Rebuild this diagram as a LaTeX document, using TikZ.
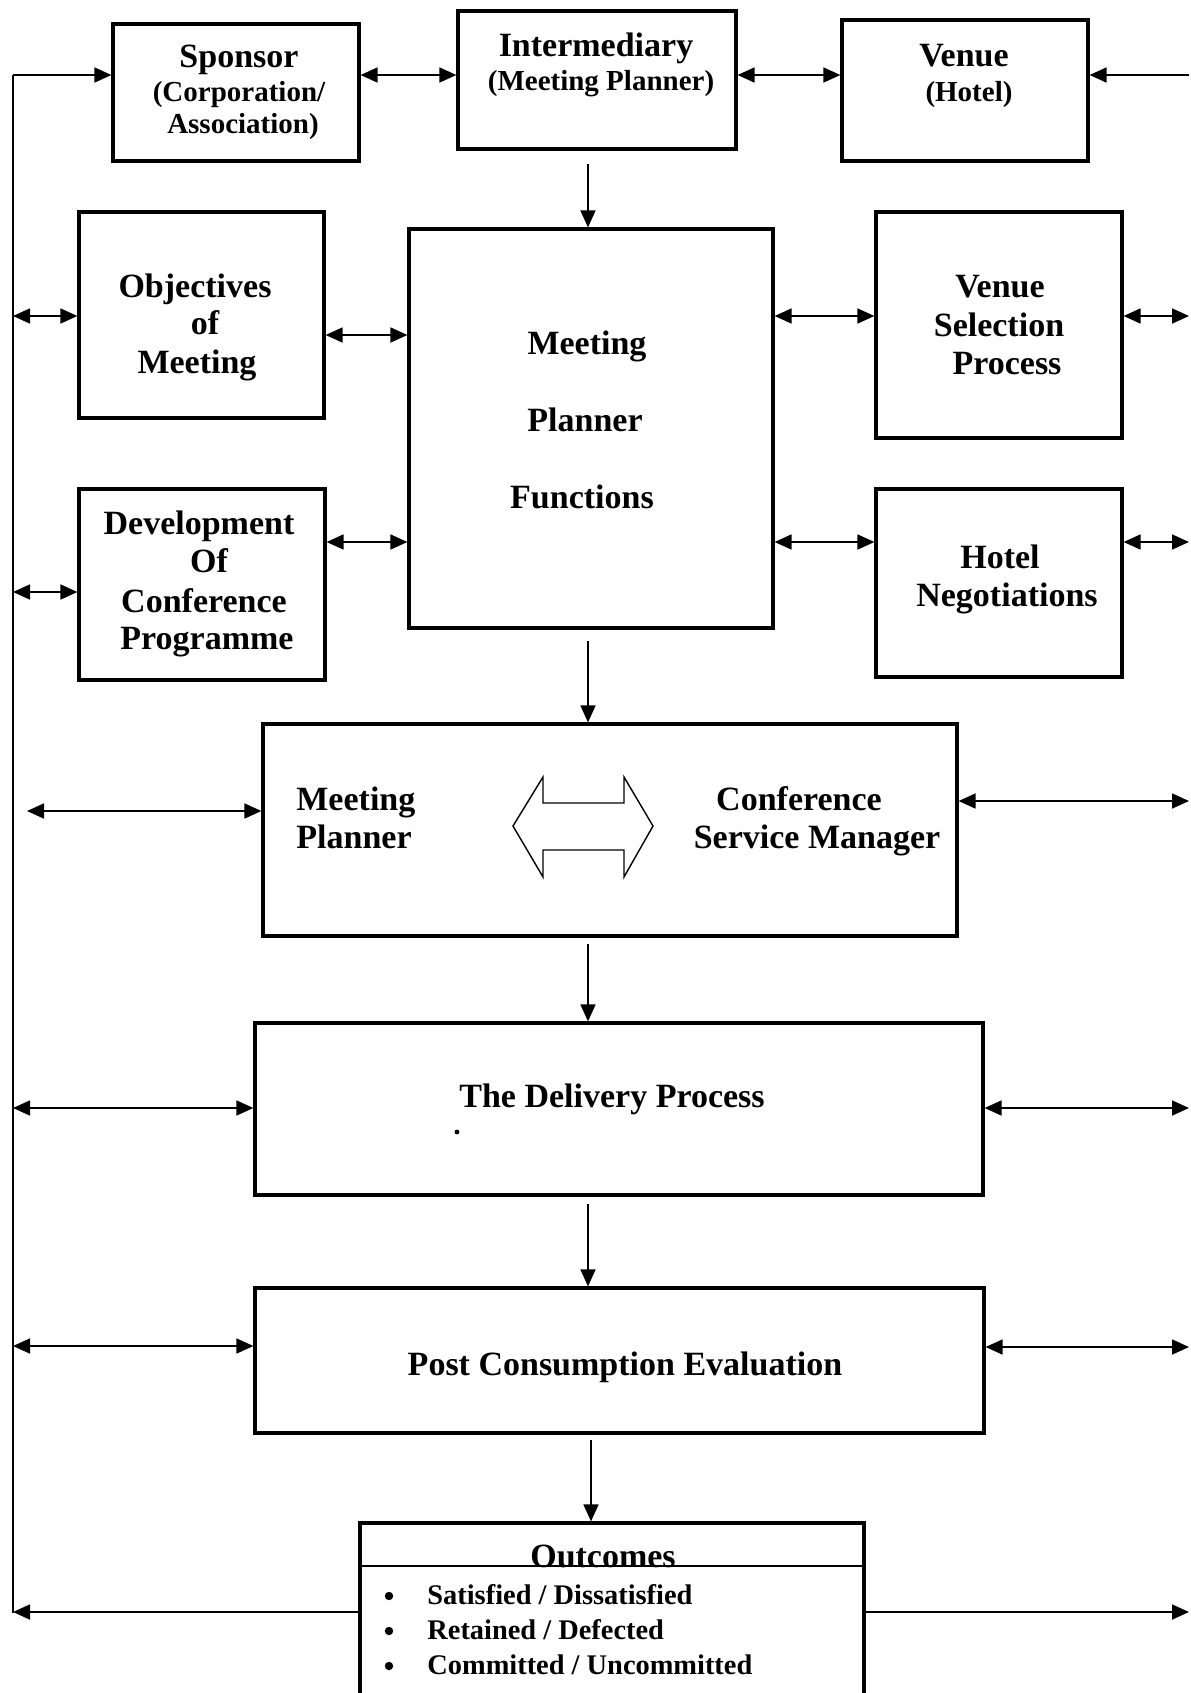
\documentclass[tikz,border=0pt]{standalone}
\usepackage{fontspec}
\setmainfont{Liberation Serif}
\usetikzlibrary{arrows.meta}
\begin{document}
\begin{tikzpicture}[x=0.5pt,y=-0.5pt,
  box/.style 2 args={draw, line width=1.6pt, rectangle, inner sep=0pt,
    minimum width=#1*0.5pt, minimum height=#2*0.5pt},
  lab/.style={font=\bfseries\fontsize{17}{20}\selectfont, anchor=base, inner sep=0pt},
  sub/.style={lab, font=\bfseries\fontsize{14.5}{17}\selectfont},
  item/.style={font=\bfseries\fontsize{14.2}{16}\selectfont, anchor=base west, inner sep=0pt},
  bul/.style={circle, fill, inner sep=0pt, minimum size=4.2pt},
  arr/.style={line width=0.85pt, -{Triangle[length=8.5pt,width=7.5pt]}},
  dbl/.style={line width=0.85pt, {Triangle[length=8.5pt,width=7.5pt]}-{Triangle[length=8.5pt,width=7.5pt]}},
  down/.style={arr, shorten <=#1},
  rail/.style={line width=0.75pt}]

\useasboundingbox[fill=white] (0,0) rectangle (1190,1693);
\clip (0,0) rectangle (1190,1693);

% ---- boxes ----
\node[box={246}{137}] (sponsor) at (236,92.5) {};
\node[box={278}{138}] (inter)   at (597,80) {};
\node[box={246}{141}] (venue)   at (965,90.5) {};
\node[box={245}{206}] (obj)     at (201.5,315) {};
\node[box={364}{399}] (mpf)     at (591,428.5) {};
\node[box={246}{226}] (vsp)     at (999,325) {};
\node[box={246}{191}] (dev)     at (202,584.5) {};
\node[box={246}{188}] (hotel)   at (999,583) {};
\node[box={694}{212}] (mpcsm)   at (610,830) {};
\node[box={728}{172}] (deliv)   at (619,1109) {};
\node[box={729}{145}] (post)    at (619.5,1360.5) {};
\node[box={504}{237}] (outc)    at (612,1641.5) {};

% ---- texts ----
\node[lab] (tSp)  at (239,67)  {Sponsor};
\node[sub] (tSp2) at (239,101) {(Corporation/};
\node[sub] (tSp3) at (243,133) {Association)};
\node[lab] (tIn)  at (596,56)  {Intermediary};
\node[sub] (tIn2) at (601,90)  {(Meeting Planner)};
\node[lab] (tVe)  at (964,66)  {Venue};
\node[sub] (tVe2) at (969,101) {(Hotel)};

\node[lab] (tOb1) at (195,297) {Objectives};
\node[lab] (tOb2) at (205,334) {of};
\node[lab] (tOb3) at (197,373) {Meeting};

\node[lab] (tMf1) at (587,354) {Meeting};
\node[lab] (tMf2) at (585,431) {Planner};
\node[lab] (tMf3) at (582,508) {Functions};

\node[lab] (tVs1) at (1000,297) {Venue};
\node[lab] (tVs2) at (999,336)  {Selection};
\node[lab] (tVs3) at (1007,374) {Process};

\node[lab] (tDv1) at (199,534) {Development};
\node[lab] (tDv2) at (209,572) {Of};
\node[lab] (tDv3) at (204,612) {Conference};
\node[lab] (tDv4) at (207,649) {Programme};

\node[lab] (tHo1) at (1000,568) {Hotel};
\node[lab] (tHo2) at (1007,606) {Negotiations};

\node[lab, anchor=base west] (tMp1) at (296,810) {Meeting};
\node[lab, anchor=base west] (tMp2) at (296,848) {Planner};
\node[lab] (tCs1) at (799,810) {Conference};
\node[lab] (tCs2) at (817,848) {Service Manager};

% two-way block arrow between the planner and the service manager
\draw[line width=0.7pt, fill=white]
  (513,826) -- (543,777) -- (543,803) -- (624,803) -- (624,777) -- (653,826)
  -- (624,877) -- (624,850) -- (543,850) -- (543,877) -- cycle;

\node[lab] (tDe) at (612,1107) {The Delivery Process};
\fill (457,1132) circle (1.2pt);
\node[lab] (tPo) at (625,1375) {Post Consumption Evaluation};

% outcomes header
\coordinate (H) at (0,1566);
\draw[line width=1pt] (outc.west |- H) -- (outc.east |- H);
\node[lab] (tOu) at (603,1567) {Outcomes};
\node[bul] (b1) at (389,1596) {};
\node[bul] (b2) at (389,1631) {};
\node[bul] (b3) at (389,1666) {};
\node[item] (i1) at (427,1604) {Satisfied / Dissatisfied};
\node[item] (i2) at (427,1639) {Retained / Defected};
\node[item] (i3) at (427,1674) {Committed / Uncommitted};

% ---- left feedback rail ----
\coordinate (L0) at (13,75);
\coordinate (L1) at (13,316);
\coordinate (L2) at (13,592);
\coordinate (L3) at (27,811);
\coordinate (L4) at (13,1108);
\coordinate (L5) at (13,1346);
\coordinate (L6) at (13,1612);
\draw[rail] (L0) -- (13,1613) coordinate (Lend);

% ---- right edge ends ----
\coordinate (R0) at (1189,75);
\coordinate (R1) at (1189,316);
\coordinate (R2) at (1189,542);
\coordinate (R3) at (1189,801);
\coordinate (R4) at (1189,1108);
\coordinate (R5) at (1189,1347);
\coordinate (R6) at (1189,1612);

% ---- top row ----
\draw[arr] (L0) -- (sponsor.west |- L0);
\draw[dbl] (sponsor.east |- L0) -- (inter.west |- L0);
\draw[dbl] (inter.east |- L0) -- (venue.west |- L0);
\draw[arr] (R0) -- (venue.east |- R0);

% ---- middle rows ----
\coordinate (M1) at (0,335);
\coordinate (M2) at (0,542);
\draw[dbl] (L1) -- (obj.west |- L1);
\draw[dbl] (obj.east |- M1) -- (mpf.west |- M1);
\draw[dbl] (mpf.east |- R1) -- (vsp.west |- R1);
\draw[dbl] (vsp.east |- R1) -- (R1);
\draw[dbl] (L2) -- (dev.west |- L2);
\draw[dbl] (dev.east |- M2) -- (mpf.west |- M2);
\draw[dbl] (mpf.east |- R2) -- (hotel.west |- R2);
\draw[dbl] (hotel.east |- R2) -- (R2);

\draw[dbl] (L3) -- (mpcsm.west |- L3);
\draw[dbl] (mpcsm.east |- R3) -- (R3);
\draw[dbl] (L4) -- (deliv.west |- L4);
\draw[dbl] (deliv.east |- R4) -- (R4);
\draw[dbl] (L5) -- (post.west |- L5);
\draw[dbl] (post.east |- R5) -- (R5);
\draw[arr] (outc.west |- L6) -- (L6);
\draw[arr] (outc.east |- R6) -- (R6);

% ---- main downward flow ----
\coordinate (S) at (588,0);
\coordinate (S2) at (591,0);
\draw[down=6.5pt] (inter.south -| S) -- (mpf.north -| S);
\draw[down=5.5pt] (mpf.south -| S) -- (mpcsm.north -| S);
\draw[down=3pt] (mpcsm.south -| S) -- (deliv.north -| S);
\draw[down=3.5pt] (deliv.south -| S) -- (post.north -| S);
\draw[down=2.5pt] (post.south -| S2) -- (outc.north -| S2);

\end{tikzpicture}
\end{document}
